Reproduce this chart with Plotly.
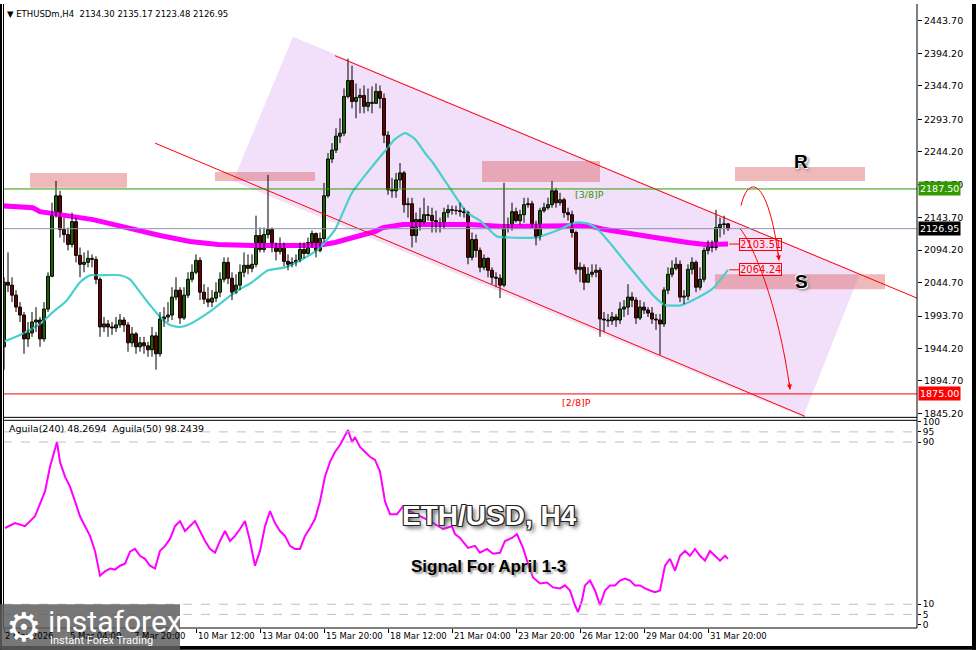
import plotly.graph_objects as go

# ---------------- data ----------------
first_open = 1946.8
closes = [2045.3, 2040.8, 2025.6, 2007.4, 1995.3, 1958.9, 1968.0, 1984.7, 1987.7, 1958.9,
          2004.4, 2054.4, 2148.3, 2177.1, 2125.6, 2118.0, 2102.9, 2137.7, 2086.2, 2072.6,
          2075.6, 2081.7, 2080.1, 2049.8, 1977.1, 1981.7, 1977.1, 1975.6, 1980.2, 1987.7,
          1980.2, 1952.9, 1966.5, 1946.8, 1952.9, 1948.3, 1942.3, 1963.5, 1936.2, 1989.2,
          1992.3, 1995.3, 2022.6, 2033.2, 1990.8, 2025.6, 2049.8, 2060.5, 2078.6, 2030.1,
          2019.5, 2015.0, 2021.1, 2030.1, 2049.8, 2075.6, 2051.4, 2030.1, 2040.8, 2060.5,
          2071.1, 2066.5, 2072.6, 2116.5, 2095.3, 2118.0, 2125.6, 2101.4, 2092.3, 2101.4,
          2077.1, 2072.6, 2075.6, 2078.6, 2095.3, 2089.2, 2105.9, 2119.5, 2093.8, 2112.0,
          2177.1, 2233.2, 2246.8, 2268.0, 2272.5, 2328.6, 2352.8, 2321.0, 2327.1, 2330.1,
          2313.5, 2319.5, 2318.0, 2336.2, 2325.6, 2269.5, 2186.2, 2184.7, 2201.3, 2212.0,
          2163.5, 2165.0, 2116.5, 2140.8, 2136.2, 2148.3, 2147.0, 2139.2, 2133.2, 2131.7,
          2151.4, 2155.9, 2155.0, 2154.4, 2152.9, 2151.4, 2083.2, 2110.4, 2093.8, 2068.0,
          2081.7, 2063.5, 2052.9, 2051.4, 2040.8, 2131.7, 2130.1, 2152.9, 2139.2, 2148.3,
          2163.5, 2165.0, 2133.2, 2115.0, 2154.4, 2158.9, 2163.5, 2184.7, 2166.5, 2171.0,
          2151.4, 2148.3, 2121.1, 2065.0, 2068.0, 2045.3, 2057.4, 2060.5, 2063.5, 1989.2,
          1987.7, 1986.5, 1992.3, 1987.7, 2004.4, 2007.4, 2022.6, 2018.0, 1990.8, 2007.4,
          2002.9, 1998.3, 1989.2, 1987.7, 1981.7, 2033.2, 2057.4, 2066.5, 2072.6, 2022.6,
          2024.1, 2065.0, 2075.6, 2037.7, 2049.8, 2093.8, 2102.9, 2098.3, 2128.6, 2133.2,
          2134.3, 2126.95]
highs = [2052.9, 2090.8, 2052.9, 2033.2, 2015.0, 1999.8, 1984.7, 1999.8, 2007.4, 1992.3,
         2015.0, 2060.5, 2166.5, 2199.8, 2184.7, 2143.8, 2128.6, 2151.4, 2143.8, 2098.3,
         2090.8, 2093.8, 2087.7, 2084.7, 2052.9, 1992.3, 1987.7, 1984.7, 1992.3, 1996.8,
         1992.3, 1984.7, 1977.1, 1969.5, 1962.0, 1962.0, 1954.4, 1977.1, 1969.5, 1999.8,
         2007.4, 2015.0, 2037.7, 2052.9, 2037.7, 2037.7, 2060.5, 2072.6, 2087.7, 2083.2,
         2042.3, 2037.7, 2033.2, 2045.3, 2060.5, 2083.2, 2083.2, 2060.5, 2057.4, 2072.6,
         2090.8, 2087.7, 2087.7, 2146.8, 2128.6, 2128.6, 2208.9, 2128.6, 2105.9, 2113.5,
         2105.9, 2087.7, 2083.2, 2087.7, 2105.9, 2105.9, 2113.5, 2124.1, 2121.1, 2121.1,
         2196.8, 2242.3, 2257.4, 2280.1, 2295.3, 2340.7, 2386.2, 2375.6, 2348.3, 2340.7,
         2345.3, 2340.7, 2343.8, 2348.3, 2345.3, 2333.2, 2275.6, 2204.4, 2212.0, 2227.1,
         2215.0, 2174.1, 2174.1, 2151.4, 2158.9, 2174.1, 2162.0, 2158.9, 2154.4, 2143.8,
         2158.9, 2163.5, 2162.0, 2162.0, 2166.5, 2158.9, 2154.4, 2121.1, 2118.0, 2098.3,
         2087.7, 2083.2, 2068.0, 2060.5, 2057.4, 2196.8, 2143.8, 2166.5, 2158.9, 2155.9,
         2174.1, 2174.1, 2169.5, 2139.2, 2158.9, 2166.5, 2174.1, 2199.8, 2189.2, 2181.7,
         2174.1, 2158.9, 2154.4, 2124.1, 2075.6, 2072.6, 2068.0, 2072.6, 2072.6, 2068.0,
         1999.8, 1996.8, 1999.8, 1996.8, 2015.0, 2018.0, 2042.3, 2030.1, 2022.6, 2018.0,
         2015.0, 2007.4, 2007.4, 1996.8, 1996.8, 2037.7, 2068.0, 2078.6, 2083.2, 2078.6,
         2033.2, 2072.6, 2083.2, 2078.6, 2068.0, 2098.3, 2108.9, 2108.9, 2155.9, 2143.8,
         2146.8, 2135.17]
lows = [1912.0, 2030.1, 2015.0, 1999.8, 1984.7, 1936.2, 1946.8, 1962.0, 1969.5, 1946.8,
        1954.4, 1999.8, 2052.9, 2143.8, 2113.5, 2105.9, 2093.8, 2098.3, 2075.6, 2052.9,
        2060.5, 2068.0, 2068.0, 2042.3, 1962.0, 1969.5, 1962.0, 1965.0, 1969.5, 1975.6,
        1969.5, 1939.3, 1946.8, 1936.2, 1939.3, 1936.2, 1931.7, 1931.7, 1912.0, 1931.7,
        1977.1, 1984.7, 1987.7, 2018.0, 1981.7, 1987.7, 2021.1, 2045.3, 2057.4, 2018.0,
        2012.0, 2007.4, 2007.4, 2015.0, 2022.6, 2045.3, 2042.3, 2018.0, 2027.1, 2033.2,
        2052.9, 2057.4, 2060.5, 2068.0, 2090.8, 2090.8, 2112.0, 2090.8, 2078.6, 2087.7,
        2069.5, 2063.5, 2068.0, 2069.5, 2075.6, 2081.7, 2087.7, 2098.3, 2083.2, 2090.8,
        2105.9, 2174.1, 2227.1, 2242.3, 2257.4, 2268.0, 2325.6, 2310.4, 2295.3, 2302.9,
        2302.9, 2305.9, 2302.9, 2318.0, 2310.4, 2257.4, 2178.6, 2174.1, 2174.1, 2189.2,
        2151.4, 2143.8, 2098.3, 2105.9, 2124.1, 2133.2, 2139.2, 2121.1, 2121.1, 2121.1,
        2127.1, 2143.8, 2148.3, 2148.3, 2145.3, 2143.8, 2072.6, 2078.6, 2083.2, 2060.5,
        2063.5, 2052.9, 2042.3, 2037.7, 2021.1, 2037.7, 2121.1, 2124.1, 2136.2, 2133.2,
        2136.2, 2158.9, 2128.6, 2101.4, 2108.9, 2151.4, 2155.9, 2158.9, 2158.9, 2162.0,
        2143.8, 2139.2, 2113.5, 2057.4, 2045.3, 2033.2, 2045.3, 2052.9, 2052.9, 1962.0,
        1969.5, 1977.1, 1980.2, 1977.1, 1981.7, 1992.3, 1995.3, 2007.4, 1981.7, 1987.7,
        1996.8, 1992.3, 1981.7, 1972.6, 1934.7, 1977.1, 2027.1, 2052.9, 2063.5, 2015.0,
        2012.0, 2018.0, 2057.4, 2030.1, 2033.2, 2045.3, 2087.7, 2090.8, 2093.8, 2113.5,
        2118.0, 2123.48]
opens = [first_open] + closes[:-1]   # each H4 bar opens at the previous close
bar_idx = list(range(len(closes)))

# slow moving average (thick magenta), read at sample bars
ma_slow_idx = [-1, 7.25, 9, 15.75, 22.25, 26.5, 30.75, 34.75, 39, 46.5, 53.5, 62, 70.25, 78.5,
               82.75, 87, 92.75, 94.75, 99.75, 108.25, 116.5, 124.75, 133.25, 139, 146,
               150.25, 154.5, 162.75, 171, 175.25, 181]
ma_slow_val = [2162.0, 2158.9, 2152.9, 2146.8, 2140.8, 2134.7, 2128.6, 2121.1, 2116.5, 2107.4,
               2102.9, 2101.4, 2101.4, 2101.4, 2105.9, 2113.5, 2122.6, 2128.6, 2133.2, 2133.2,
               2133.2, 2130.1, 2130.1, 2131.7, 2131.7, 2125.6, 2121.1, 2113.5, 2105.9, 2102.9,
               2103.51]
# fast moving average (cyan)
ma_fast_idx = [-0.25, 4, 9, 12.25, 15.75, 19, 21.5, 24, 29, 31.5, 34, 36.5, 39, 41.5, 44, 46.5,
               52, 57.75, 62, 66, 70.25, 74.5, 78.5, 82.75, 87, 92.75, 95.25, 97.75, 100.25,
               102.75, 105.25, 107.25, 110.75, 115.75, 119, 123.25, 126.5, 133.25, 138.25,
               142.75, 146, 148.5, 152, 156, 159.5, 162.75, 165.25, 169.5, 172.75, 177, 181]
ma_fast_val = [1954.4, 1965.0, 1981.7, 1999.8, 2018.0, 2045.3, 2055.9, 2055.9, 2055.9, 2049.8,
               2030.1, 2010.5, 1992.3, 1980.2, 1977.1, 1981.7, 2002.9, 2030.1, 2045.3, 2063.5,
               2068.0, 2080.1, 2095.3, 2125.6, 2181.7, 2227.1, 2245.3, 2263.5, 2272.5, 2263.5,
               2242.3, 2227.1, 2195.3, 2151.4, 2139.2, 2115.0, 2113.5, 2113.5, 2124.1, 2136.2,
               2134.7, 2125.6, 2101.4, 2071.1, 2045.3, 2022.6, 2010.5, 2010.5, 2019.5, 2034.7,
               2064.24]

# oscillator (lower pane)
osc_idx = [0.25, 2.75, 5.25, 7.75, 10.25, 11.5, 13.25, 14, 15.25, 16.5, 17.75, 19, 20.25, 21.5,
           22.75, 24, 25.25, 26.5, 27.75, 29, 30.25, 31.5, 32.75, 34, 35.25, 36.5, 37.75, 39,
           40.25, 41.5, 42.75, 44, 45.25, 46.5, 47.75, 49, 50.25, 51.5, 52.75, 54, 55.25, 56.5,
           57.75, 59, 60.25, 61.5, 62.75, 64, 65.25, 66.5, 67.75, 69, 70.25, 71.5, 72.75, 74,
           75.25, 76.5, 77.75, 79, 80.25, 81.5, 82.75, 84, 86, 87, 87.75, 89, 90.25, 91.5, 92.75,
           94, 95.25, 96.5, 98.25, 99.75, 101.5, 104, 106.5, 109.75, 112, 112.75, 114, 116,
           117.75, 119, 120.75, 122.25, 124, 125.25, 127, 128.25, 129.75, 131, 132.25, 134,
           135.75, 137.25, 139, 140.25, 141.5, 142.75, 143.5, 144.5, 145.25, 146.5, 147.75, 149,
           150.25, 151.5, 152.75, 154, 155.25, 156.5, 157.75, 159, 160.25, 161.5, 162.75, 164,
           165.25, 166.5, 167.75, 169, 170.25, 171.5, 172.75, 174, 175.25, 176.5, 177.75, 179,
           180.25, 181]
osc_val = [47.6, 50.0, 48.5, 53.4, 65.6, 77.8, 90.0, 80.2, 72.9, 68.0, 60.7, 53.4, 48.5, 43.7,
           36.3, 24.1, 26.2, 27.6, 27.1, 29.0, 30.0, 35.9, 37.3, 33.9, 32.4, 29.0, 27.6, 36.3,
           38.8, 42.2, 48.5, 51.0, 46.1, 48.5, 51.0, 46.1, 41.2, 37.3, 35.4, 41.2, 46.1, 41.2,
           43.7, 47.1, 51.0, 41.2, 29.0, 36.3, 48.5, 55.9, 50.0, 46.1, 43.7, 38.8, 37.3, 37.3,
           43.7, 47.6, 52.0, 60.7, 73.0, 80.2, 85.1, 88.5, 95.9, 90.0, 92.4, 87.6, 85.1, 82.7,
           81.2, 75.4, 60.7, 54.4, 54.4, 58.3, 55.9, 53.4, 51.0, 47.1, 48.5, 44.6, 42.7, 37.8,
           38.8, 35.4, 37.3, 34.9, 35.4, 41.2, 42.7, 44.6, 37.8, 30.0, 23.2, 20.2, 20.7, 18.3,
           17.8, 19.3, 16.8, 9.5, 6.1, 12.0, 19.3, 21.7, 16.8, 9.5, 16.8, 19.3, 19.3, 21.7,
           22.7, 21.7, 19.3, 19.3, 17.8, 16.8, 15.9, 16.8, 29.0, 32.4, 26.6, 33.9, 36.3, 33.9,
           37.3, 33.9, 31.5, 36.3, 33.9, 31.5, 33.9, 32.4]
osc_levels = [95, 90, 10, 5]
osc_ticks = [100, 95, 90, 10, 5, 0]

tick_idx = [0, 16, 32, 48, 64, 80, 96, 112, 128, 144, 160, 176]
tick_text = ["2 Mar 2026", "5 Mar 04:00", "7 Mar 20:00", "10 Mar 12:00", "13 Mar 04:00",
             "15 Mar 20:00", "18 Mar 12:00", "21 Mar 04:00", "23 Mar 20:00", "26 Mar 12:00",
             "29 Mar 04:00", "31 Mar 20:00"]
price_ticks = [2443.70, 2394.20, 2344.70, 2293.70, 2244.20, 2194.70, 2143.70, 2094.20,
               2044.70, 1993.70, 1944.20, 1894.70, 1845.20]

level_r = 2187.50      # green line [3/8]
level_now = 2126.95    # current bid
level_s = 1875.00      # red line [2/8]
ma_slow_last = 2103.51
ma_fast_last = 2064.24

# zones: (x0, x1, y0, y1) in bar index / price
zones = [(6.5, 30.75, 2189.2, 2212.0), (52.75, 77.75, 2199.8, 2213.5),
         (119.5, 149.0, 2198.3, 2230.1), (182.75, 215.25, 2199.8, 2221.0),
         (177.75, 220.25, 2034.7, 2057.4)]
channel_upper = (82.75, 2390.7, 228.25, 2021.1)
channel_lower = (37.75, 2257.4, 200.25, 1840.8)
channel_fill = [(72.25, 2419.5), (214.0, 2058.9), (199.75, 1839.3), (57.25, 2199.8)]
arrow_up = [(184.25, 2162.0), (186.0, 2208.9), (191.0, 2208.9), (193.75, 2078.6)]
arrow_down = [(184.0, 2127.1), (187.0, 2105.9), (193.5, 2015.0), (196.5, 1881.7)]

# ---------------- geometry ----------------
WIDTH, HEIGHT = 976, 650
PL, PR, PT, PB = 3, 917, 2, 628


def xp(px):
    return (px - PL) / (PR - PL)


def yp(py):
    return (PB - py) / (PB - PT)


FONT = "DejaVu Sans"
GREEN = "#2f9a00"
RED = "#ff0000"

fig = go.Figure()

# moving averages (drawn under candles)
fig.add_trace(go.Scatter(x=ma_slow_idx, y=ma_slow_val, mode="lines",
                         line=dict(color="#ff00ff", width=5), hoverinfo="skip",
                         xaxis="x", yaxis="y"))
fig.add_trace(go.Scatter(x=ma_fast_idx, y=ma_fast_val, mode="lines",
                         line=dict(color="#48d1cc", width=2.2, shape="spline", smoothing=0.6),
                         hoverinfo="skip", xaxis="x", yaxis="y"))

# wicks
wx, wy = [], []
for i, h, l in zip(bar_idx, highs, lows):
    wx += [i, i, None]
    wy += [l, h, None]
fig.add_trace(go.Scatter(x=wx, y=wy, mode="lines", line=dict(color="black", width=1),
                         hoverinfo="skip", xaxis="x", yaxis="y"))

# bodies
for up, col in ((True, "#33cc00"), (False, "#dd0000")):
    bx, bb, bh = [], [], []
    for i, o, c in zip(bar_idx, opens, closes):
        if (c >= o) == up:
            bx.append(i)
            bb.append(min(o, c))
            bh.append(abs(c - o))
    fig.add_trace(go.Bar(x=bx, y=bh, base=bb, width=0.72,
                         marker=dict(color=col, line=dict(color="black", width=1)),
                         hoverinfo="skip", xaxis="x", yaxis="y"))

# oscillator
fig.add_trace(go.Scatter(x=osc_idx, y=osc_val, mode="lines",
                         line=dict(color="#ff00ff", width=2), hoverinfo="skip",
                         xaxis="x2", yaxis="y2"))

shapes = []
# channel fill
pth = "M " + " L ".join(f"{x},{y}" for x, y in channel_fill) + " Z"
shapes.append(dict(type="path", path=pth, xref="x", yref="y", layer="below",
                   fillcolor="rgba(210,140,235,0.28)", line=dict(width=0)))
for x0, x1, y0, y1 in zones:
    shapes.append(dict(type="rect", xref="x", yref="y", x0=x0, x1=x1, y0=y0, y1=y1,
                       layer="below", fillcolor="rgba(220,100,100,0.45)", line=dict(width=0)))
for (x0, y0, x1, y1) in (channel_upper, channel_lower):
    shapes.append(dict(type="line", xref="x", yref="y", x0=x0, y0=y0, x1=x1, y1=y1,
                       line=dict(color=RED, width=1)))
# horizontal levels
for lv, col in ((level_r, GREEN), (level_now, "#8a96b4"), (level_s, RED)):
    shapes.append(dict(type="line", xref="paper", yref="y", x0=0, x1=1, y0=lv, y1=lv,
                       line=dict(color=col, width=1)))
# arrows
for pts in (arrow_up, arrow_down):
    p = pts
    path = f"M {p[0][0]},{p[0][1]} C {p[1][0]},{p[1][1]} {p[2][0]},{p[2][1]} {p[3][0]},{p[3][1]}"
    shapes.append(dict(type="path", path=path, xref="x", yref="y",
                       line=dict(color=RED, width=1)))
# connectors to MA labels
for v in (ma_slow_last, ma_fast_last):
    shapes.append(dict(type="line", xref="x", yref="y", x0=181.3, x1=183.75, y0=v, y1=v,
                       line=dict(color=RED, width=1)))
# oscillator levels
for lv in osc_levels:
    shapes.append(dict(type="line", xref="paper", yref="y2", x0=0, x1=1, y0=lv, y1=lv,
                       line=dict(color="#c0c0c0", width=1, dash="dash")))
# frames
blk = dict(color="black", width=1)
shapes += [
    dict(type="line", xref="paper", yref="paper", x0=xp(PR), x1=xp(PR), y0=yp(PB), y1=yp(0), line=blk),
    dict(type="line", xref="paper", yref="paper", x0=0, x1=xp(PR), y0=yp(416), y1=yp(416), line=blk),
    dict(type="line", xref="paper", yref="paper", x0=0, x1=xp(PR), y0=yp(419), y1=yp(419), line=blk),
    dict(type="line", xref="paper", yref="paper", x0=0, x1=xp(PR), y0=yp(PB), y1=yp(PB), line=blk),
    dict(type="rect", xref="paper", yref="paper", x0=xp(0), x1=xp(2), y0=yp(650), y1=yp(0),
         fillcolor="black", line=dict(width=0)),
    dict(type="line", xref="paper", yref="paper", x0=xp(3.5), x1=xp(3.5), y0=yp(PB), y1=yp(0), line=blk),
    dict(type="rect", xref="paper", yref="paper", x0=xp(0), x1=xp(976), y0=yp(650), y1=yp(646),
         fillcolor="black", line=dict(width=0)),
    dict(type="rect", xref="paper", yref="paper", x0=xp(972), x1=xp(976), y0=yp(650), y1=yp(0),
         fillcolor="black", line=dict(width=0)),
    # logo plate
    dict(type="rect", xref="paper", yref="paper", x0=xp(0), x1=xp(180), y0=yp(650), y1=yp(604),
         fillcolor="rgba(95,95,95,0.85)", line=dict(width=0), layer="above"),
]

ann = []


def text_at(txt, px, py, size, color, family=FONT, xa="center", ya="middle", **kw):
    ann.append(dict(text=txt, xref="paper", yref="paper", x=xp(px), y=yp(py),
                    xanchor=xa, yanchor=ya, showarrow=False,
                    font=dict(family=family, size=size, color=color, **kw)))


# headers
text_at("▼ ETHUSDm,H4  2134.30 2135.17 2123.48 2126.95", 5, 10, 8.5, "black", xa="left")
text_at("Aguila(240) 48.2694  Aguila(50) 98.2439", 7, 427, 9.5, "black", xa="left")
# x labels
for ti, tt in zip(tick_idx, tick_text):
    ann.append(dict(text=tt, xref="x2", yref="paper", x=ti if ti > 0 else -0.25, y=yp(629),
                    xanchor="left", yanchor="top", showarrow=False,
                    font=dict(family=FONT, size=8.5, color="black")))
# price tags on axis
for lv, bg in ((level_r, "#339900"), (level_now, "black"), (level_s, RED)):
    ann.append(dict(text=f"{lv:.2f}", xref="paper", yref="y", x=xp(918), y=lv,
                    xanchor="left", yanchor="middle", showarrow=False, bgcolor=bg,
                    borderpad=1, font=dict(family=FONT, size=9.5, color="white")))
# MA value boxes
for v in (ma_slow_last, ma_fast_last):
    ann.append(dict(text=f"{v:.2f}", xref="x", yref="y", x=183.75, y=v, xanchor="left",
                    yanchor="middle", showarrow=False, bordercolor=RED, borderwidth=1,
                    borderpad=0, font=dict(family=FONT, size=10, color=RED)))
# fibo labels
ann.append(dict(text="[3/8]P", xref="x", yref="y", x=142.25, y=2178.6, xanchor="left",
                yanchor="middle", showarrow=False, font=dict(family=FONT, size=9.5, color=GREEN)))
ann.append(dict(text="[2/8]P", xref="x", yref="y", x=139, y=1862.0, xanchor="left",
                yanchor="middle", showarrow=False, font=dict(family=FONT, size=9.5, color=RED)))
# arrow heads
for pts in (arrow_up, arrow_down):
    ann.append(dict(text="", xref="x", yref="y", x=pts[3][0], y=pts[3][1], ax=-1, ay=-9,
                    showarrow=True, arrowhead=2, arrowsize=1, arrowwidth=1, arrowcolor=RED))
# R / S
for t, py in (("R", 158), ("S", 279)):
    text_at(f"<b>{t}</b>", 801, py, 19, "black", family="Liberation Sans",
            shadow="1px 1px 0 #fff, -1px -1px 0 #fff, 2px 2px 3px #777")
# titles
text_at("<b>ETH/USD, H4</b>", 490, 515, 28, "white", family="Liberation Sans",
        shadow="-1px -1px 0 #222, 1px -1px 0 #222, -1px 1px 0 #222, 1px 1px 0 #222, 3px 3px 4px #555")
text_at("<b>Signal For April 1-3</b>", 489, 566, 17, "black", family="Liberation Sans",
        shadow="2px 2px 2px #999")
# logo
text_at("⚙", 24, 627, 40, "white", family="DejaVu Sans")
text_at("instaforex", 46, 621, 30, "white", family="Roboto", xa="left")
text_at("Instant Forex Trading", 48, 641, 11, "white", family="Roboto", xa="left")

fig.update_layout(
    width=WIDTH, height=HEIGHT, margin=dict(l=PL, r=WIDTH - PR, t=PT, b=HEIGHT - PB),
    paper_bgcolor="white", plot_bgcolor="white", showlegend=False, barmode="overlay",
    shapes=shapes, annotations=ann,
    xaxis=dict(range=[-0.25, 228.25], showticklabels=False, ticks="", showgrid=False,
               zeroline=False, anchor="y"),
    xaxis2=dict(range=[-0.25, 228.25], matches="x", tickvals=tick_idx, ticks="outside",
                ticklen=4, tickcolor="black", showticklabels=False, showgrid=False,
                zeroline=False, anchor="y2", showline=False),
    yaxis=dict(domain=[yp(416), 1], range=[1839.26, 2466.47], side="right",
               tickvals=price_ticks, ticktext=[f"{v:.2f}" for v in price_ticks],
               ticks="outside", ticklen=4, tickcolor="black", showgrid=False, zeroline=False,
               tickfont=dict(family=FONT, size=9.5, color="black"), anchor="x"),
    yaxis2=dict(domain=[0, yp(420)], range=[-1.71, 100.2], side="right",
                tickvals=osc_ticks, ticktext=[str(v) for v in osc_ticks],
                ticks="outside", ticklen=3, tickcolor="black", showgrid=False, zeroline=False,
                tickfont=dict(family=FONT, size=9, color="black"), anchor="x2"),
)

fig.write_html("out.html", config={"displayModeBar": False},
               post_script="document.body.style.margin='0px';document.body.style.overflow='hidden';")
